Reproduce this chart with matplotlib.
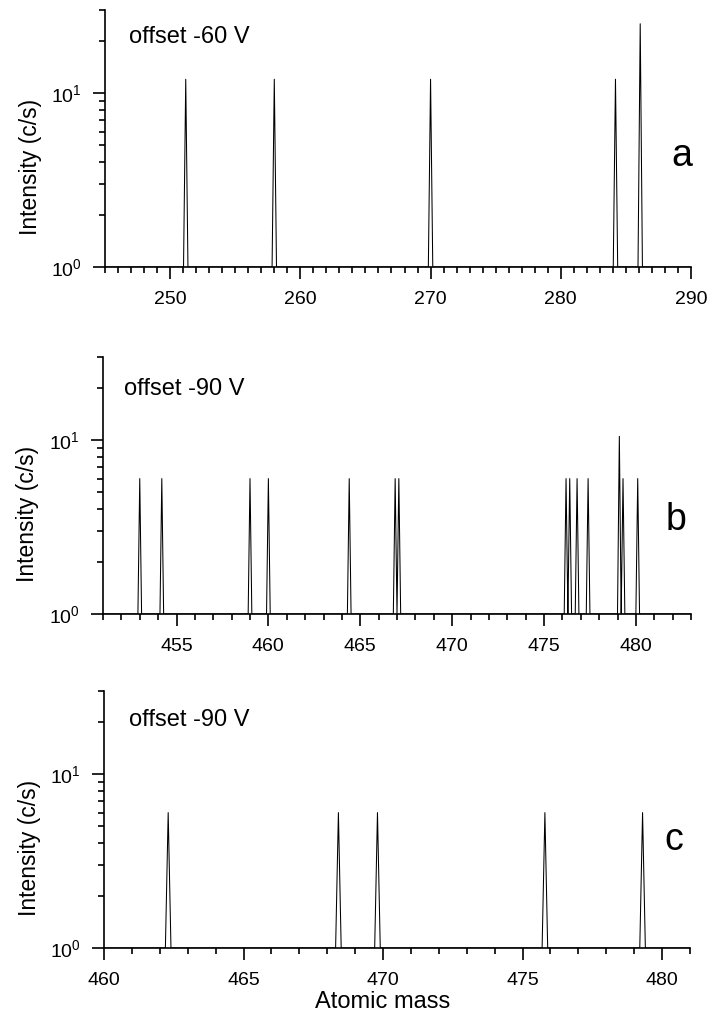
import numpy as np
import matplotlib
matplotlib.use("Agg")
import matplotlib.pyplot as plt
from matplotlib.ticker import MultipleLocator, LogLocator, NullFormatter

plt.rcParams['font.family'] = ['Liberation Sans', 'DejaVu Sans']
plt.rcParams['mathtext.fontset'] = 'custom'
plt.rcParams['mathtext.rm'] = 'Liberation Sans'
plt.rcParams['mathtext.it'] = 'Liberation Sans:italic'

# peak positions (atomic mass) and peak heights (c/s)
mass_a = [251.2, 258.0, 270.0, 284.2, 286.1]
int_a = [12, 12, 12, 12, 25]

mass_b = [453.0, 454.2, 459.0, 460.0, 464.4, 466.9, 467.1,
          476.2, 476.4, 476.8, 477.4, 479.1, 479.3, 480.1]
int_b = [6, 6, 6, 6, 6, 6, 6, 6, 6, 6, 6, 10.5, 6, 6]

mass_c = [462.3, 468.4, 469.8, 475.8, 479.3]
int_c = [6, 6, 6, 6, 6]

offsets = ["offset -60 V", "offset -90 V", "offset -90 V"]
letters = ["a", "b", "c"]
xlims = [(245, 290), (451, 483), (460, 481)]
major_steps = [10, 5, 5]
baseline = 1.0


def spectrum(centres, heights, halfw, lo, hi):
    # triangular peaks sitting on the baseline
    xs = [lo]
    ys = [baseline]
    for c, h in sorted(zip(centres, heights)):
        xs += [c - halfw, c, c + halfw]
        ys += [baseline, h, baseline]
    xs.append(hi)
    ys.append(baseline)
    return np.array(xs), np.array(ys)


fig = plt.figure(figsize=(7.11, 10.19), dpi=100)
W, H = 711.0, 1019.0
boxes = [(105, 691, 10, 267), (103, 691, 357, 614), (104, 690, 691, 948)]
halfws = [0.17, 0.1, 0.1]
data = [(mass_a, int_a), (mass_b, int_b), (mass_c, int_c)]
text_pos = [(0.041, 0.894), (0.035, 0.877), (0.0425, 0.886)]
letter_pos = [(0.984, 0.43), (0.975, 0.365), (0.973, 0.42)]

for i in range(3):
    l, r, t, b = boxes[i]
    ax = fig.add_axes([l / W, 1 - b / H, (r - l) / W, (b - t) / H])
    lo, hi = xlims[i]
    xs, ys = spectrum(data[i][0], data[i][1], halfws[i], lo, hi)
    ax.plot(xs, ys, color='black', lw=0.75)
    ax.set_yscale('log')
    ax.set_xlim(lo, hi)
    ax.set_ylim(1, 30)
    ax.spines['top'].set_visible(False)
    ax.spines['right'].set_visible(False)
    for s in ['left', 'bottom']:
        ax.spines[s].set_linewidth(1.2)
    ax.xaxis.set_major_locator(MultipleLocator(major_steps[i]))
    ax.xaxis.set_minor_locator(MultipleLocator(1))
    ax.yaxis.set_major_locator(LogLocator(base=10))
    ax.yaxis.set_minor_locator(LogLocator(base=10, subs=np.arange(2, 10)))
    ax.yaxis.set_minor_formatter(NullFormatter())
    ax.tick_params(which='both', direction='out', width=1.2, labelsize=14)
    ax.tick_params(which='major', length=8.5)
    ax.tick_params(which='minor', length=4)
    ax.tick_params(axis='x', pad=9)
    ax.tick_params(axis='y', pad=8)
    if i == 0:
        ax.set_xticks([250, 260, 270, 280, 290])
    ax.set_ylabel("Intensity (c/s)", fontsize=16.5)
    ax.yaxis.set_label_coords(-0.108, 0.39)
    ax.text(text_pos[i][0], text_pos[i][1], offsets[i], transform=ax.transAxes,
            fontsize=17, ha='left', va='center')
    ax.text(letter_pos[i][0], letter_pos[i][1], letters[i], transform=ax.transAxes,
            fontsize=27, ha='center', va='center')
    if i == 2:
        ax.set_xlabel("Atomic mass", fontsize=17, va='baseline')
        ax.xaxis.set_label_coords(0.476, -0.235)

fig.savefig("out.png", dpi=100)
